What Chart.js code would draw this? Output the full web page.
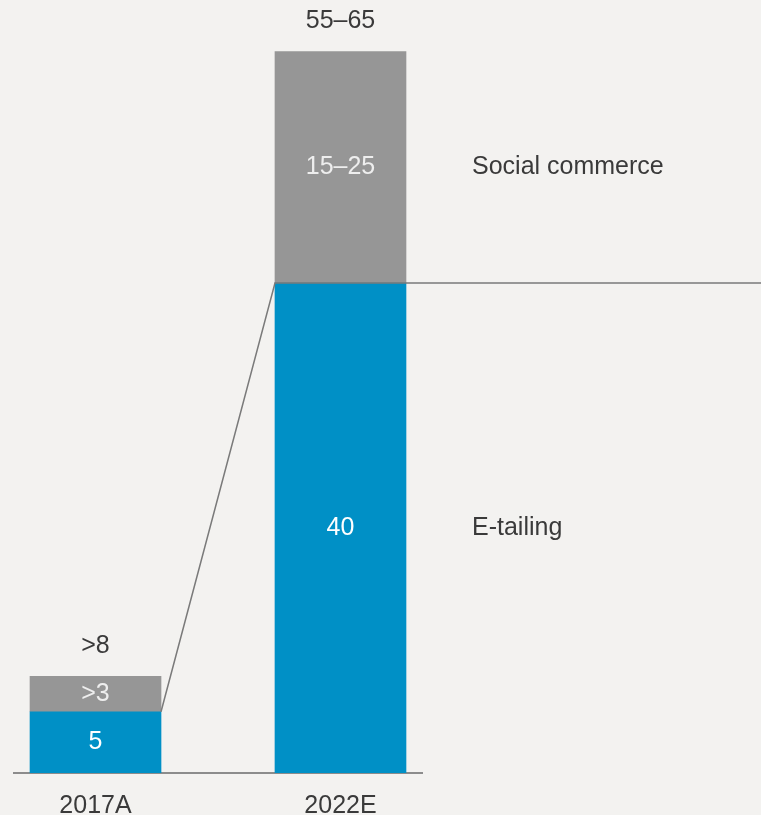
<!DOCTYPE html>
<html>
<head>
<meta charset="utf-8">
<script src="https://cdn.jsdelivr.net/npm/chart.js@4/dist/chart.umd.min.js"></script>
<style>
  html, body { margin: 0; padding: 0; background: #f3f2f0; }
  canvas { display: block; }
</style>
</head>
<body>
<canvas id="commerceChart" width="761" height="815"></canvas>
<script>
// Chart data
const categories = ['2017A', '2022E'];
const seriesNames = ['E-tailing', 'Social commerce'];
const eTailing = [5, 40];
const socialCommerce = [2.9, 18.9];
const eTailingLabels = ['5', '40'];
const socialLabels = ['>3', '15–25'];
const totalLabels = ['>8', '55–65'];

const FONT = '"Liberation Sans", Arial, Helvetica, sans-serif';
const BLUE = '#0090c6';
const GRAY = '#969696';

/**
 * Segment values, totals, series names and connector line
 */
const segmentLabelPlugin = {
    id: 'segmentLabels',
    afterDatasetsDraw(chart) {
        const ctx = chart.ctx;
        const blue = chart.getDatasetMeta(0).data;
        const gray = chart.getDatasetMeta(1).data;
        ctx.save();

        // Connector from 2017A to 2022E, running out to the right edge
        ctx.strokeStyle = '#7a7a7a';
        ctx.lineWidth = 1.5;
        ctx.beginPath();
        ctx.moveTo(blue[0].x + blue[0].width / 2, blue[0].y);
        ctx.lineTo(blue[1].x - blue[1].width / 2, blue[1].y);
        ctx.lineTo(chart.width, blue[1].y);
        ctx.stroke();

        ctx.font = '25px ' + FONT;
        ctx.textAlign = 'center';
        ctx.textBaseline = 'middle';

        categories.forEach((cat, i) => {
            const b = blue[i];
            const g = gray[i];
            ctx.fillStyle = '#ffffff';
            ctx.fillText(eTailingLabels[i], b.x, (b.y + b.base) / 2);
            ctx.fillStyle = '#eeeeee';
            ctx.fillText(socialLabels[i], g.x, (g.y + g.base) / 2);
            ctx.fillStyle = '#3a3a3a';
            ctx.fillText(totalLabels[i], g.x, g.y - 30);
        });

        // Series names beside the last bar
        const last = categories.length - 1;
        const lb = blue[last];
        const lg = gray[last];
        ctx.textAlign = 'left';
        ctx.fillStyle = '#3a3a3a';
        ctx.fillText(seriesNames[1], lg.x + lg.width / 2 + 66, (lg.y + lg.base) / 2);
        ctx.fillText(seriesNames[0], lb.x + lb.width / 2 + 66, (lb.y + lb.base) / 2);

        ctx.restore();
    }
};

new Chart(document.getElementById('commerceChart'), {
    type: 'bar',
    data: {
        datasets: [
            {
                label: seriesNames[0],
                data: eTailing.map((v, i) => ({ x: i, y: v })),
                backgroundColor: BLUE,
                borderWidth: 0,
                barThickness: 131
            },
            {
                label: seriesNames[1],
                data: socialCommerce.map((v, i) => ({ x: i, y: v })),
                backgroundColor: GRAY,
                borderWidth: 0,
                barThickness: 131
            }
        ]
    },
    options: {
        responsive: false,
        animation: false,
        layout: {
            padding: { top: 38, left: 14, right: 339, bottom: 0 }
        },
        plugins: {
            legend: { display: false },
            tooltip: { enabled: false }
        },
        scales: {
            x: {
                type: 'linear',
                stacked: true,
                offset: false,
                min: -0.3327,
                max: 1.3327,
                afterBuildTicks: (scale) => {
                    scale.ticks = categories.map((c, i) => ({ value: i }));
                },
                afterFit: (scale) => {
                    scale.height = 42;
                },
                grid: { display: false, drawTicks: false, offset: false },
                border: { display: true, color: '#8c8c8c', width: 2 },
                ticks: {
                    autoSkip: false,
                    maxRotation: 0,
                    padding: 18,
                    color: '#3a3a3a',
                    font: { family: FONT, size: 25 },
                    callback: (value) => categories[value] ?? ''
                }
            },
            y: {
                stacked: true,
                display: false,
                min: 0,
                max: 60
            }
        }
    },
    plugins: [segmentLabelPlugin]
});
</script>
</body>
</html>
